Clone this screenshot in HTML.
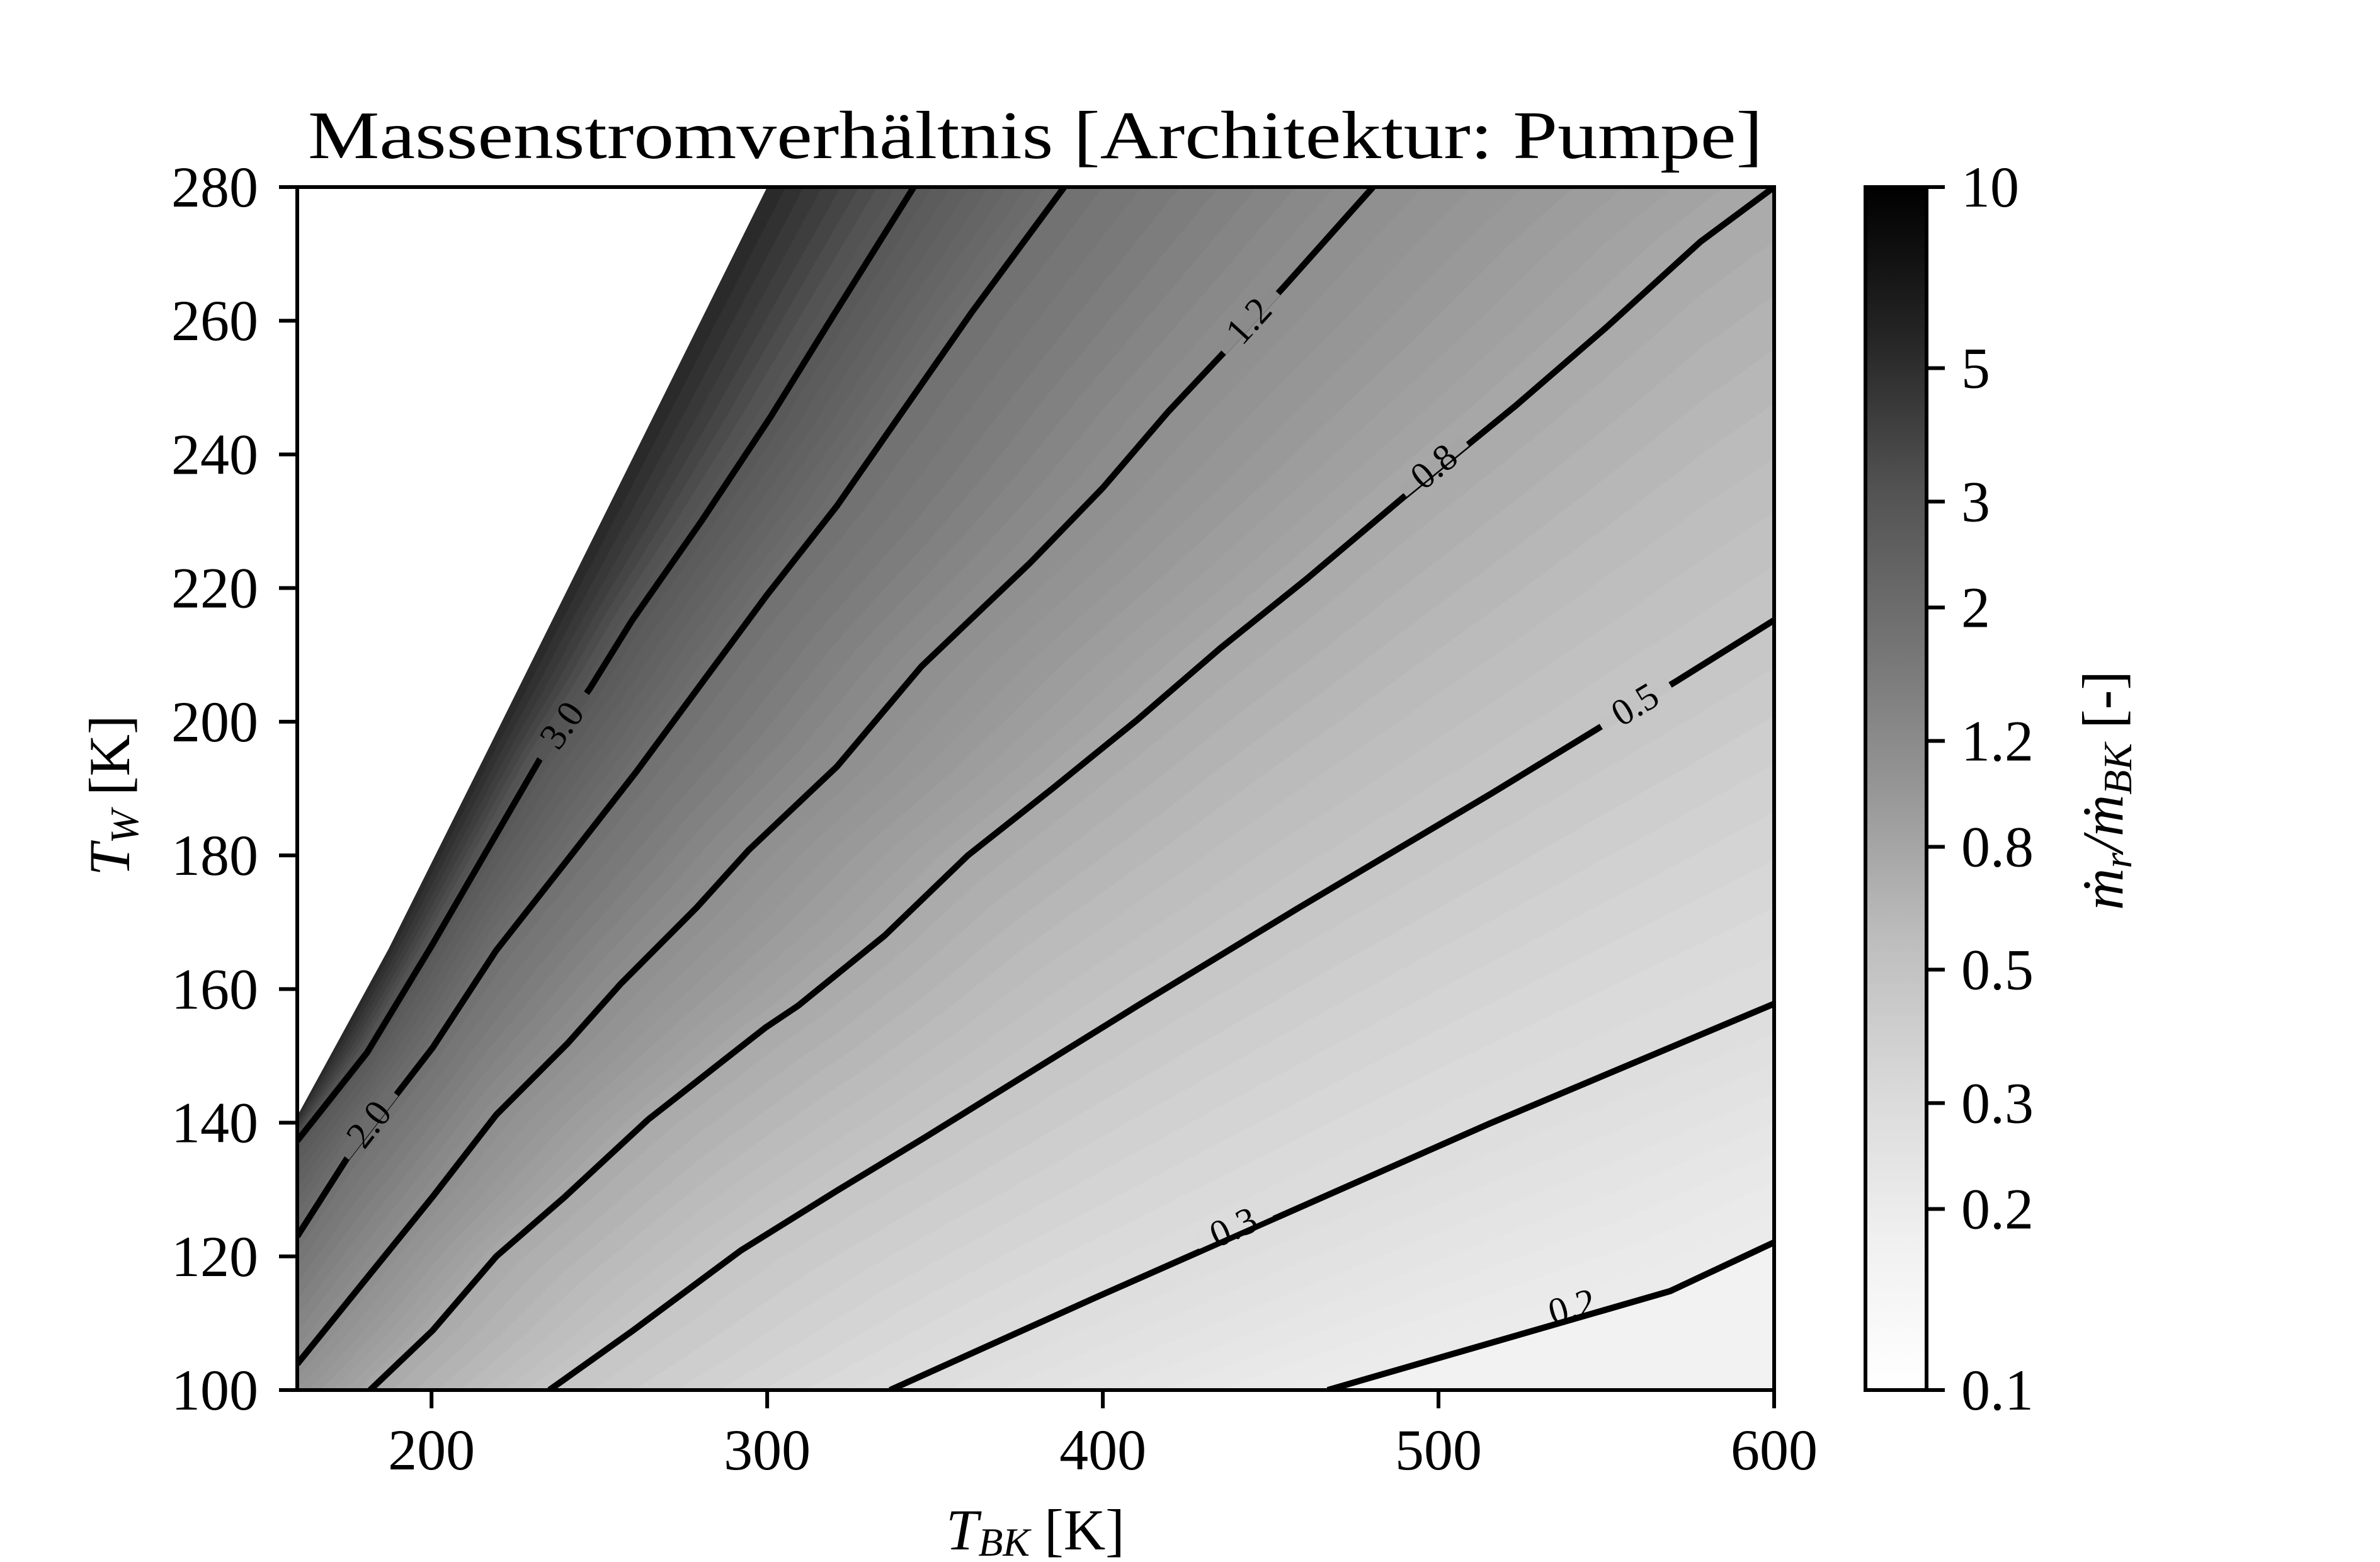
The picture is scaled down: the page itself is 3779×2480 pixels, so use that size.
<!DOCTYPE html>
<html><head><meta charset="utf-8"><style>
html,body{margin:0;padding:0;background:#fff;overflow:hidden;width:3779px;height:2480px;}
svg{display:block;font-family:"Liberation Serif","DejaVu Serif",serif;}
</style></head><body>
<svg id="chart" width="3779" height="2480" viewBox="0 0 3779 2480" xmlns="http://www.w3.org/2000/svg">
<defs>
<clipPath id="plotclip"><rect x="472" y="297" width="2345" height="1910"/></clipPath>
<linearGradient id="cbgrad" x1="0" y1="1" x2="0" y2="0">
<stop offset="0" stop-color="rgb(255,255,255)"/>
<stop offset="0.125" stop-color="rgb(240,240,240)"/>
<stop offset="0.25" stop-color="rgb(217,217,217)"/>
<stop offset="0.375" stop-color="rgb(189,189,189)"/>
<stop offset="0.5" stop-color="rgb(150,150,150)"/>
<stop offset="0.625" stop-color="rgb(115,115,115)"/>
<stop offset="0.75" stop-color="rgb(82,82,82)"/>
<stop offset="0.875" stop-color="rgb(37,37,37)"/>
<stop offset="1" stop-color="rgb(0,0,0)"/>
</linearGradient>
</defs>
<g id="field" clip-path="url(#plotclip)"></g>
<g id="lines" clip-path="url(#plotclip)"></g>
<g id="labels"></g>
<rect x="472" y="297" width="2345" height="1910" fill="none" stroke="#000" stroke-width="6"/>
<g id="axes"></g>
<text x="1644" y="251" text-anchor="middle" font-size="108" textLength="2310" lengthAdjust="spacingAndGlyphs">Massenstromverhältnis [Architektur: Pumpe]</text>
<text x="1644" y="2460" text-anchor="middle" font-size="92"><tspan font-style="italic">T</tspan><tspan font-style="italic" font-size="64" dy="10">BK</tspan><tspan dy="-10"> [K]</tspan></text>
<text transform="translate(205,1263) rotate(-90)" text-anchor="middle" font-size="92"><tspan font-style="italic">T</tspan><tspan font-style="italic" font-size="64" dy="14">W</tspan><tspan dy="-14"> [K]</tspan></text>
<rect x="2962" y="297" width="97" height="1910" fill="url(#cbgrad)" stroke="#000" stroke-width="6"/>
<g id="cbaxis"></g>
<text transform="translate(3370,1255) rotate(-90)" text-anchor="middle" font-size="92"><tspan font-style="italic">ṁ</tspan><tspan font-style="italic" font-size="64" dy="14">r</tspan><tspan dy="-14" font-style="italic">/ṁ</tspan><tspan font-style="italic" font-size="64" dy="14">BK</tspan><tspan dy="-14"> [-]</tspan></text>
</svg>
<script>
const xTicks = [200, 300, 400, 500, 600];
const yTicks = [100, 120, 140, 160, 180, 200, 220, 240, 260, 280];
const cbTicks = [0.1, 0.2, 0.3, 0.5, 0.8, 1.2, 2, 3, 5, 10];
const cbTickLabels = ["0.1", "0.2", "0.3", "0.5", "0.8", "1.2", "2", "3", "5", "10"];
const levels = [0.2, 0.3, 0.5, 0.8, 1.2, 2.0, 3.0];
const levelLabels = ["0.2", "0.3", "0.5", "0.8", "1.2", "2.0", "3.0"];
const line02 = [[467,100],[569,114.8],[600,122.1]];
const line03 = [[336.6,100],[397.2,113.7],[514.9,139.8],[600,157.8]];
const line05 = [[235.1,100],[260,108.9],[292.2,120.9],[320.7,129.8],[347,137.8],[410.3,157.5],[458.5,172.2],[515.9,189.3],[548.2,199.2],[571,206.1],[600,215.2]];
const line08 = [[181.7,100],[200.3,108.9],[219.3,120],[239.7,128.9],[264.6,140.5],[299.4,154.2],[309.2,157.5],[335,168],[359.8,180],[385,190],[410.3,200.3],[435,211],[460.8,221.4],[489.6,233.6],[522.8,247.2],[550,259],[578,271.8],[600,280]];
const line12 = [[160,103.9],[200.3,128.9],[219.3,141.2],[240.6,151.9],[256.4,160.8],[279,172.2],[294.5,180.8],[320.8,193.3],[346,208.3],[378.2,223.7],[400,235],[419.5,246.4],[435.6,255],[454,265.1],[480.5,280]];
const line20 = [[160,123],[175,134.8],[200.3,151.2],[219.3,165.8],[240.3,179.2],[261,192.5],[280.4,205.7],[300,219],[320.8,232.3],[339.2,245.6],[361,261.3],[388.5,280]];
const line30 = [[160,137.3],[180.8,150.5],[200.3,166.7],[232.4,194.5],[247.2,205],[259.8,215.2],[280.4,230],[301,245.6],[320,261],[343.7,280]];
const contourLines = [line02, line03, line05, line08, line12, line20, line30];
const labelPos = [[539.8,112.5],[438.9,124.4],[558.5,202.6],[498.6,238.2],[443.4,260],[181.3,139.8],[238.8,199.5]];
const nanBoundary = [[160,141],[187.2,166],[217,196],[300,280],[160,280]];
const edgeLevel = 6;

const X0=472, X1=2817, Y0=2207, Y1=297;
const xmin=160, xmax=600, ymin=100, ymax=280;
function sx(t){return X0+(t-xmin)/(xmax-xmin)*(X1-X0);}
function sy(t){return Y0-(t-ymin)/(ymax-ymin)*(Y0-Y1);}
function cbY(v){return 2207-(Math.log10(v)+1)/2*1910;}
const greys=[255,240,217,189,150,115,82,37,0];
function grey(v){let t=(Math.log10(v)+1)/2;t=Math.max(0,Math.min(1,t));const f=t*8;const i=Math.min(7,Math.floor(f));const g=Math.round(greys[i]+(greys[i+1]-greys[i])*(f-i));return `rgb(${g},${g},${g})`;}
const NS="http://www.w3.org/2000/svg";
function mk(tag,attrs,parent){const e=document.createElementNS(NS,tag);for(const k in attrs)e.setAttribute(k,attrs[k]);parent.appendChild(e);return e;}
function toPx(pts){return pts.map(p=>[sx(p[0]),sy(p[1])]);}
function resample(px,N){
  const d=[0];for(let i=1;i<px.length;i++)d.push(d[i-1]+Math.hypot(px[i][0]-px[i-1][0],px[i][1]-px[i-1][1]));
  const L=d[d.length-1];const out=[];let j=0;
  for(let k=0;k<N;k++){const s=L*k/(N-1);while(j<px.length-2&&d[j+1]<s)j++;const f=(s-d[j])/((d[j+1]-d[j])||1);out.push([px[j][0]+(px[j+1][0]-px[j][0])*f,px[j][1]+(px[j+1][1]-px[j][1])*f]);}
  return out;
}
function regionPoly(px){
  const s=px[0],e=px[px.length-1];
  const pts=px.slice();
  pts.push([Math.min(3000,e[0]+300),e[1]-300<0?0:e[1]-300]);
  pts.push([Math.min(3000,e[0]+300),0]);
  pts.push([0,0]);
  pts.push([0,2470]);
  pts.push([Math.max(0,s[0]-300),Math.min(2470,s[1]+300)]);
  return pts.map(p=>p[0].toFixed(1)+','+p[1].toFixed(1)).join(' ');
}
const field=document.getElementById('field');
const bg=mk('rect',{x:X0,y:Y1,width:X1-X0,height:Y0-Y1,fill:grey(0.165)},field);


const seq=contourLines.map((l,i)=>({px:resample(toPx(l),80),v:levels[i]}));
seq.push({px:resample(toPx(nanBoundary.slice(0,4)),80),v:edgeLevel});
const SUB=8;
for(let i=0;i<seq.length;i++){
  if(i===0){
    const el=mk('polygon',{points:regionPoly(seq[0].px),fill:grey(0.2)},field);
    
    
    continue;
  }
  const A=seq[i-1],B=seq[i];
  for(let k=1;k<=SUB;k++){
    const f=k/SUB;
    const px=A.px.map((p,n)=>[p[0]+(B.px[n][0]-p[0])*f,p[1]+(B.px[n][1]-p[1])*f]);
    const v=Math.exp(Math.log(A.v)+(Math.log(B.v)-Math.log(A.v))*(f-0.5/SUB));
    const el=mk('polygon',{points:regionPoly(px),fill:grey(v)},field);
    
    
  }
}
const nan=mk('polygon',{points:nanBoundary.map(p=>sx(p[0])+','+sy(p[1])).join(' ')+' '+sx(140)+','+sy(280)+' '+sx(140)+','+sy(120),fill:'#fff'},field);


const linesG=document.getElementById('lines');
const labG=document.getElementById('labels');
levels.forEach((lv,i)=>{
  const pts=contourLines[i];
  const pl=mk('polyline',{points:pts.map(p=>sx(p[0])+','+sy(p[1])).join(' '),fill:'none',stroke:'#000','stroke-width':10,'stroke-linejoin':'round'},linesG);
  
  
  const lp=labelPos[i];const px=sx(lp[0]),py=sy(lp[1]);
  let best=0,bd=1e9;
  for(let k=0;k<pts.length-1;k++){const mx=(sx(pts[k][0])+sx(pts[k+1][0]))/2,my=(sy(pts[k][1])+sy(pts[k+1][1]))/2;const d=Math.hypot(mx-px,my-py);if(d<bd){bd=d;best=k;}}
  const a=Math.atan2(sy(pts[best+1][1])-sy(pts[best][1]),sx(pts[best+1][0])-sx(pts[best][0]))*180/Math.PI;
  const g=mk('g',{transform:`translate(${px},${py}) rotate(${a})`},labG);
  
  
  mk('rect',{x:-64,y:-10,width:128,height:20,fill:grey(lv)},g);
  const t=mk('text',{x:0,y:20,'text-anchor':'middle','font-size':60,fill:'#000'},g);
  t.textContent=levelLabels[i];
});
const ax=document.getElementById('axes');
xTicks.forEach(v=>{
  const x=sx(v);
  const l=mk('line',{x1:x,y1:Y0,x2:x,y2:Y0+29,stroke:'#000','stroke-width':6},ax);
  
  
  const t=mk('text',{x:x,y:2333,'text-anchor':'middle','font-size':92},ax);
  
  
  t.textContent=v;
});
yTicks.forEach(v=>{
  const y=sy(v);
  const l=mk('line',{x1:X0-29,y1:y,x2:X0,y2:y,stroke:'#000','stroke-width':6},ax);
  
  
  const t=mk('text',{x:410,y:y+31,'text-anchor':'end','font-size':92},ax);
  
  
  t.textContent=v;
});
const cb=document.getElementById('cbaxis');
cbTicks.forEach((v,i)=>{
  const y=cbY(v);
  const l=mk('line',{x1:3059,y1:y,x2:3088,y2:y,stroke:'#000','stroke-width':6},cb);
  
  
  const t=mk('text',{x:3114,y:y+31,'font-size':92},cb);
  
  
  t.textContent=cbTickLabels[i];
});
</script>
</body></html>
